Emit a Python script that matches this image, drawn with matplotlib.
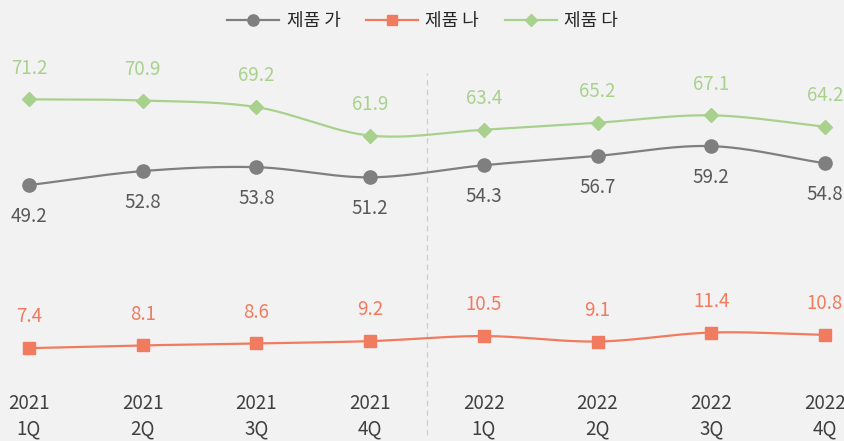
import numpy as np
import matplotlib
matplotlib.use("Agg")
import matplotlib.pyplot as plt

plt.rcParams["font.family"] = ["Noto Sans CJK KR", "DejaVu Sans"]
plt.rcParams["font.weight"] = "light"

quarters = ["2021\n1Q", "2021\n2Q", "2021\n3Q", "2021\n4Q",
            "2022\n1Q", "2022\n2Q", "2022\n3Q", "2022\n4Q"]
product_ga = [49.2, 52.8, 53.8, 51.2, 54.3, 56.7, 59.2, 54.8]
product_na = [7.4, 8.1, 8.6, 9.2, 10.5, 9.1, 11.4, 10.8]
product_da = [71.2, 70.9, 69.2, 61.9, 63.4, 65.2, 67.1, 64.2]

BG = "#f2f2f2"
GRAY, ORANGE, GREEN = "#7f7f7f", "#f07b5f", "#a9d18e"


def smooth(x, y, n=30):
    # Catmull-Rom curve through the points (like Excel's smoothed line)
    x = np.asarray(x, float)
    y = np.asarray(y, float)
    px = np.concatenate([[2 * x[0] - x[1]], x, [2 * x[-1] - x[-2]]])
    py = np.concatenate([[2 * y[0] - y[1]], y, [2 * y[-1] - y[-2]]])
    xs, ys = [], []
    t = np.linspace(0, 1, n)
    for i in range(1, len(px) - 2):
        for p, out in ((px, xs), (py, ys)):
            p0, p1, p2, p3 = p[i - 1], p[i], p[i + 1], p[i + 2]
            out.append(0.5 * (2 * p1 + (-p0 + p2) * t
                              + (2 * p0 - 5 * p1 + 4 * p2 - p3) * t ** 2
                              + (-p0 + 3 * p1 - 3 * p2 + p3) * t ** 3))
    return np.concatenate(xs), np.concatenate(ys)


fig = plt.figure(figsize=(8.45, 4.41), dpi=100, facecolor=BG)
ax = fig.add_axes([0, 0, 1, 1])
ax.set_facecolor(BG)
x = np.arange(len(quarters))
ax.set_xlim(-0.255, 7.176)
ax.set_ylim(-16.41, 96.67)
ax.axis("off")

ax.plot([3.5, 3.5], [-14.9, 77.9], color="#d0d0d0", lw=1, ls=(0, (4, 3)))

series = [
    ("제품 가", product_ga, GRAY, "o", 9.5, "#595959", -1),
    ("제품 나", product_na, ORANGE, "s", 8, ORANGE, 1),
    ("제품 다", product_da, GREEN, "D", 7, GREEN, 1),
]
handles = []
for name, vals, color, mk, ms, tcolor, side in series:
    sx, sy = smooth(x, vals)
    ax.plot(sx, sy, color=color, lw=1.6, solid_capstyle="round")
    ax.plot(x, vals, ls="none", marker=mk, ms=ms, color=color, mec=color)
    h, = ax.plot([], [], color=color, lw=1.6, marker=mk, ms=ms * 0.85)
    handles.append((h, name))
    for xi, v in zip(x, vals):
        ax.text(xi, v + side * 8.0, f"{v}", ha="center", va="center",
                fontsize=13.5, color=tcolor)

for xi, lab in zip(x, quarters):
    ax.text(xi, -10.0, lab, ha="center", va="center", fontsize=13.5,
            color="#404040", linespacing=1.25)

fig.legend([h for h, _ in handles], [n for _, n in handles], loc="upper center",
           bbox_to_anchor=(0.5, 1.01), ncol=3, frameon=False, fontsize=13,
           handlelength=2.9, columnspacing=1.4, handletextpad=0.4,
           labelcolor="#262626")

fig.savefig("out.png", dpi=100, facecolor=BG)
